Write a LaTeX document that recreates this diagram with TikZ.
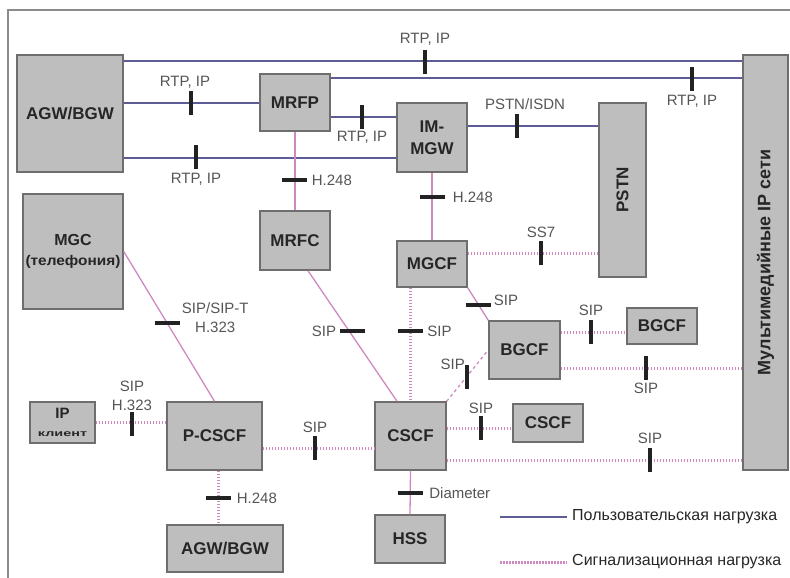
\documentclass[tikz,border=0pt]{standalone}
\usepackage{fontspec}
\setmainfont{Liberation Sans}
\usepackage{tikz}
\usetikzlibrary{positioning}
\definecolor{netFill}{HTML}{BEBEBE}
\definecolor{netEdge}{HTML}{6E6E6E}
\definecolor{netUser}{HTML}{5C5C96}
\definecolor{netSig}{HTML}{D088BE}
\definecolor{netTick}{HTML}{222222}
\definecolor{netLabel}{HTML}{555555}
\definecolor{netText}{HTML}{262626}
\definecolor{netFrame}{HTML}{8C8C8C}
\tikzset{
  netbox/.style={draw=netEdge,fill=netFill,line width=1.5pt,inner sep=0pt,align=center,text=netText,font=\fontsize{17}{22}\selectfont\bfseries},
  rottext/.style={rotate=90,text=netText,inner sep=0pt,font=\fontsize{17}{22}\selectfont\bfseries},
  userline/.style={netUser,line width=2pt},
  sigline/.style={netSig,line width=3pt,dash pattern=on 1.5pt off 1.5pt},
  sigthin/.style={netSig,line width=1.3pt},
  vtick/.style={fill=netTick,inner sep=0pt,minimum width=3.5pt,minimum height=24pt},
  htick/.style={fill=netTick,inner sep=0pt,minimum width=25pt,minimum height=3.5pt},
  lbl/.style={text=netLabel,inner sep=0pt,align=center,font=\fontsize{15}{19}\selectfont},
  legtext/.style={text=netText,inner sep=5pt,font=\fontsize{16}{19}\selectfont}
}
\begin{document}
\begin{tikzpicture}[x=1pt,y=-1pt]
  \useasboundingbox (0,0) rectangle (790,578);
  \draw[netFrame,line width=1.2pt] (790,10) -- (8,10) -- (8,578);

  \node[netbox,minimum width=106pt,minimum height=117pt] (agwA) at (70,113.5) {AGW/BGW};
  \node[netbox,minimum width=70pt,minimum height=57pt] (mrfp) at (295,102.5) {MRFP};
  \node[netbox,minimum width=70pt,minimum height=69pt] (imMGW) at (432,137.5) {IM-\\MGW};
  \node[netbox,minimum width=47pt,minimum height=174pt] (pstn) at (622.5,190) {};
  \node[rottext] at (pstn) {PSTN};
  \node[netbox,minimum width=45pt,minimum height=415pt] (mmIP) at (765.5,262.5) {};
  \node[rottext,font=\fontsize{18}{22}\selectfont\bfseries] at (mmIP) {Мультимедийные IP сети};
  \node[netbox,minimum width=100pt,minimum height=115pt,font=\fontsize{16}{20}\selectfont\bfseries] (mgc) at (73,251.5) {MGC\\{\fontsize{14}{16}\selectfont\scalebox{1.1}[1]{(телефония)}}};
  \node[netbox,minimum width=70pt,minimum height=59pt] (mrfc) at (295,240.5) {MRFC};
  \node[netbox,minimum width=70pt,minimum height=46pt] (mgcf) at (432,264) {MGCF};
  \node[netbox,minimum width=71pt,minimum height=58pt] (bgcf) at (524.5,350) {BGCF};
  \node[netbox,minimum width=70pt,minimum height=36pt] (bgcfR) at (662,326) {BGCF};
  \node[netbox,minimum width=71pt,minimum height=68pt] (cscf) at (410.5,436) {CSCF};
  \node[netbox,minimum width=70pt,minimum height=38pt] (cscfR) at (548,423) {CSCF};
  \node[netbox,minimum width=70pt,minimum height=48pt] (hss) at (410,539) {HSS};
  \node[netbox,minimum width=65pt,minimum height=41pt,font=\fontsize{15}{18}\selectfont\bfseries] (ipCl) at (62.5,422.5) {IP\\{\fontsize{9}{11}\selectfont\scalebox{1.6}[1]{клиент}}};
  \node[netbox,minimum width=95pt,minimum height=68pt] (pcscf) at (214.5,436) {P-CSCF};
  \node[netbox,minimum width=116pt,minimum height=47pt] (agwB) at (225,548.5) {AGW/BGW};

  \draw[userline] ([yshift=-7pt]agwA.north east) coordinate (u1) -- (u1 -| mmIP.west);
  \draw[userline] ([yshift=-5pt]mrfp.north east) coordinate (u2) -- (u2 -| mmIP.west);
  \draw[userline] (agwA.east |- mrfp.west) -- (mrfp.west);
  \draw[userline] ([yshift=-14.5pt]mrfp.east) coordinate (u3) -- (u3 -| imMGW.west);
  \draw[userline] ([yshift=15pt]imMGW.south west) coordinate (u4) -- (u4 -| agwA.east);
  \draw[userline] ([yshift=11.5pt]imMGW.east) coordinate (u5) -- (u5 -| pstn.west);

  \draw[sigthin] (mrfp.south) -- (mrfc.north);
  \draw[sigthin] (imMGW.south) -- (mgcf.north);
  \draw[sigline] ([yshift=11pt]mgcf.east) coordinate (s1) -- (s1 -| pstn.west);
  \draw[sigthin] (mgcf.south east) -- (bgcf.north west);
  \draw[sigline] (mgcf.south -| cscf.north) -- (cscf.north);
  \draw[sigthin] ([xshift=13pt]mrfc.south) -- ([xshift=-13.5pt]cscf.north);
  \draw[sigthin] (mgc.east) -- (pcscf.north);
  \draw[sigthin,dashed] (cscf.north east) -- (bgcf.west);
  \draw[sigline] ([yshift=18pt]bgcf.east) coordinate (s2) -- (s2 -| bgcfR.west);
  \draw[sigline] ([yshift=-18pt]bgcf.east) coordinate (s3) -- (s3 -| mmIP.west);
  \draw[sigline] ([yshift=8pt]cscf.east) coordinate (s4) -- (s4 -| cscfR.west);
  \draw[sigline] ([yshift=-24pt]cscf.east) coordinate (s5) -- (s5 -| mmIP.west);
  \draw[sigthin] (cscf.south) -- (hss.north);
  \draw[sigline] (ipCl.east) -- (ipCl.east -| pcscf.west);
  \draw[sigline] ([yshift=-12pt]pcscf.east) coordinate (s6) -- (s6 -| cscf.west);
  \draw[sigline] ([xshift=3.5pt]pcscf.south) coordinate (s7) -- (s7 |- agwB.north);

  \node[vtick] (t1) at (425,62) {};
  \node[lbl,above=4pt of t1] {RTP, IP};
  \node[vtick] (t2) at (692,79) {};
  \node[lbl,below=4pt of t2] {RTP, IP};
  \node[vtick] (t3) at (191,103) {};
  \node[lbl,above=2pt of t3,xshift=-6pt] {RTP, IP};
  \node[vtick] (t4) at (362,117) {};
  \node[lbl,below=2pt of t4] {RTP, IP};
  \node[vtick] (t5) at (196,157) {};
  \node[lbl,below=4pt of t5] {RTP, IP};
  \node[vtick] (t6) at (517,126) {};
  \node[lbl,above=4pt of t6,xshift=8pt] {PSTN/ISDN};
  \node[vtick] (tSS) at (541,253) {};
  \node[lbl,above=3pt of tSS] {SS7};
  \node[htick] (h1) at (294,180) {};
  \node[lbl,right=5pt of h1] {H.248};
  \node[htick] (h2) at (432,197) {};
  \node[lbl,right=8pt of h2] {H.248};
  \node[htick] (h3) at (218,498) {};
  \node[lbl,right=6pt of h3] {H.248};
  \node[htick] (h4) at (410.5,493) {};
  \node[lbl,right=6pt of h4] {Diameter};
  \node[htick] (h5) at (478,305) {};
  \node[lbl,right=3pt of h5,yshift=5pt] {SIP};
  \node[htick] (h6) at (410.5,331) {};
  \node[lbl,right=4pt of h6] {SIP};
  \node[htick] (h7) at (352,331) {};
  \node[lbl,left=3pt of h7] {SIP};
  \node[htick] (h8) at (167,323) {};
  \node[lbl,right=2pt of h8,yshift=5pt] {SIP/SIP-T\\H.323};
  \node[vtick] (v1) at (467,377) {};
  \node[lbl,left=2pt of v1.north] {SIP};
  \node[vtick] (v2) at (591,332) {};
  \node[lbl,above=4pt of v2] {SIP};
  \node[vtick] (v3) at (646,368) {};
  \node[lbl,below=3pt of v3] {SIP};
  \node[vtick] (v4) at (481,428) {};
  \node[lbl,above=2pt of v4] {SIP};
  \node[vtick] (v5) at (650,460) {};
  \node[lbl,above=4pt of v5] {SIP};
  \node[vtick] (v6) at (315,448) {};
  \node[lbl,above=3pt of v6] {SIP};
  \node[vtick] (v7) at (132,424) {};
  \node[lbl,above=1pt of v7] {SIP\\H.323};

  \coordinate (legU) at (500,517);
  \node[legtext,anchor=west] (legUtxt) at (567,517) {Пользовательская нагрузка};
  \draw[userline] (legU) -- (legUtxt.west);
  \coordinate (legS) at (500,562);
  \node[legtext,anchor=west] (legStxt) at (567,562) {Сигнализационная нагрузка};
  \draw[sigline] (legS) -- (legStxt.west);
\end{tikzpicture}
\end{document}
